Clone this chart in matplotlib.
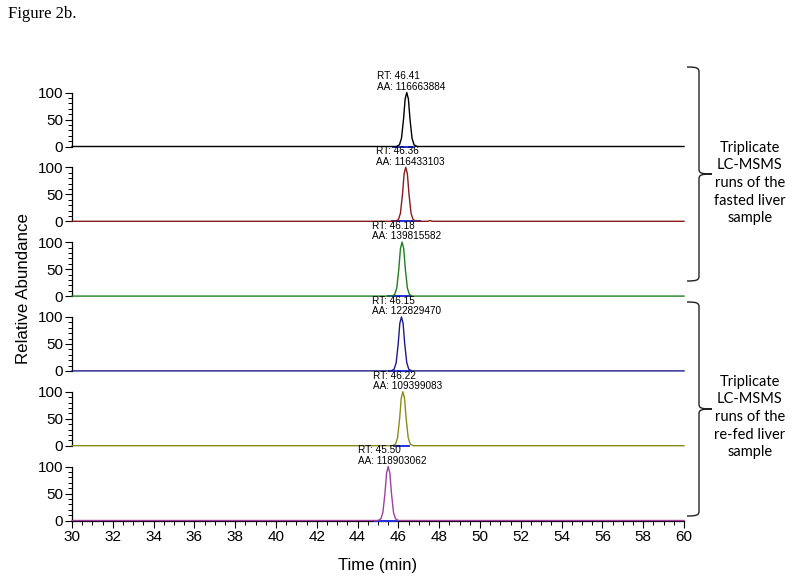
import matplotlib
matplotlib.use("Agg")
import matplotlib.pyplot as plt
from matplotlib.path import Path
from matplotlib.patches import PathPatch
from matplotlib.ticker import MultipleLocator

plt.rcParams["font.family"] = ["Liberation Sans", "DejaVu Sans"]

# retention time / area labels per run
rt_labels = ["46.41", "46.36", "46.18", "46.15", "46.22", "45.50"]
aa_labels = ["116663884", "116433103", "139815582", "122829470", "109399083", "118903062"]
colors = ["#000000", "#8b1a1a", "#1f7f1f", "#1a1a8a", "#8c8c1a", "#a040a0"]

# chromatogram points (time min, relative abundance)
times = [
    [30.0, 45.9, 46.05, 46.15, 46.25, 46.33, 46.41, 46.49, 46.57, 46.67, 46.77, 46.92, 60.0],
    [30.0, 45.85, 46.0, 46.1, 46.2, 46.28, 46.36, 46.44, 46.52, 46.62, 46.72, 46.87, 47.45, 47.55, 47.65, 60.0],
    [30.0, 45.67, 45.82, 45.92, 46.02, 46.1, 46.18, 46.26, 46.34, 46.44, 46.54, 46.69, 60.0],
    [30.0, 45.64, 45.79, 45.89, 45.99, 46.07, 46.15, 46.23, 46.31, 46.41, 46.51, 46.66, 60.0],
    [30.0, 45.71, 45.86, 45.96, 46.06, 46.14, 46.22, 46.3, 46.38, 46.48, 46.58, 46.73, 60.0],
    [30.0, 44.99, 45.14, 45.24, 45.34, 45.42, 45.5, 45.58, 45.66, 45.76, 45.86, 46.01, 60.0],
]
abund = [
    [0, 0, 3, 15, 50, 88, 100, 88, 50, 15, 3, 0, 0],
    [0, 0, 3, 15, 50, 88, 100, 88, 50, 15, 3, 0, 0, 1.5, 0, 0],
    [0, 0, 3, 15, 50, 88, 100, 88, 50, 15, 3, 0, 0],
    [0, 0, 3, 15, 50, 88, 100, 88, 50, 15, 3, 0, 0],
    [0, 0, 3, 15, 50, 88, 100, 88, 50, 15, 3, 0, 0],
    [0, 0, 3, 15, 50, 88, 100, 88, 50, 15, 3, 0, 0],
]
# integration baseline segments (start, end) in minutes
int_start = [45.75, 45.7, 45.5, 45.55, 45.8, 44.85]
int_end = [46.75, 47.05, 46.6, 46.6, 46.5, 45.93]

group_labels = [
    "Triplicate\nLC-MSMS\nruns of the\nfasted liver\nsample",
    "Triplicate\nLC-MSMS\nruns of the\nre-fed liver\nsample",
]

W, H = 800, 582
fig = plt.figure(figsize=(W / 100, H / 100), dpi=100)

left_px, right_px = 72, 684
panel_h = 54
zero0, stride = 146.5, 74.8

axes = []
for i in range(6):
    zero = zero0 + i * stride
    ax = fig.add_axes([left_px / W, (H - zero) / H, (right_px - left_px) / W, panel_h / H])
    ax.set_xlim(30, 60)
    ax.set_ylim(0, 100)
    ax.patch.set_alpha(0)
    for s in ["top", "right"]:
        ax.spines[s].set_visible(False)
    ax.spines["left"].set_linewidth(0.9)
    ax.set_yticks([0, 50, 100])
    ax.yaxis.set_minor_locator(MultipleLocator(10))
    ax.tick_params(axis="y", which="major", length=5, width=0.8, pad=1.5, labelsize=11)
    ax.tick_params(axis="y", which="minor", length=3, width=0.7)

    ax.plot([int_start[i], int_end[i]], [0, 0], color="#2030e0", lw=1.4, clip_on=False, zorder=3)
    ax.plot(times[i], abund[i], color=colors[i], lw=1.0, clip_on=False, zorder=4)

    ax.annotate(
        f"RT: {rt_labels[i]}\nAA: {aa_labels[i]}",
        xy=(float(rt_labels[i]), 100),
        xytext=(-21.5, 0.5),
        textcoords="offset points",
        ha="left",
        va="bottom",
        fontsize=7.2,
        linespacing=1.05,
        annotation_clip=False,
    )

    if i < 5:
        ax.spines["bottom"].set_visible(False)
        ax.set_xticks([])
    else:
        ax.spines["bottom"].set_linewidth(0.9)
        ax.set_xticks(range(30, 61, 2))
        ax.xaxis.set_minor_locator(MultipleLocator(0.5))
        ax.tick_params(axis="x", which="major", length=5, width=0.8, pad=2, labelsize=11)
        ax.tick_params(axis="x", which="minor", length=3, width=0.7)
        ax.set_xlabel("Time (min)", fontsize=12, labelpad=10)
    axes.append(ax)

fig.text(24 / W, 1 - 289 / H, "Relative Abundance", rotation=90, ha="center",
         va="center", fontsize=12.2)
fig.text(8 / W, 1 - 14 / H, "Figure 2b.", ha="left", va="center", fontsize=12,
         family=["Liberation Serif", "DejaVu Serif"])

# overlay in pixel coordinates for the braces and group notes
ov = fig.add_axes([0, 0, 1, 1])
ov.set_xlim(0, W)
ov.set_ylim(H, 0)
ov.axis("off")


def brace(ax, x, top, bot, width=12, tip=13):
    mid = (top + bot) / 2
    r = 5
    verts = [
        (x - width, top), (x - 2, top), (x, top + 1), (x, top + r),
        (x, mid - r), (x, mid - 1), (x + 2, mid), (x + tip, mid),
        (x + 2, mid), (x, mid + 1), (x, mid + r),
        (x, bot - r), (x, bot - 1), (x - 2, bot), (x - width, bot),
    ]
    codes = [Path.MOVETO, Path.CURVE4, Path.CURVE4, Path.CURVE4,
             Path.LINETO, Path.CURVE4, Path.CURVE4, Path.CURVE4,
             Path.CURVE4, Path.CURVE4, Path.CURVE4,
             Path.LINETO, Path.CURVE4, Path.CURVE4, Path.CURVE4]
    ax.add_patch(PathPatch(Path(verts, codes), fill=False, lw=1.0, color="#222222"))


brace(ov, 699, 67, 281)
brace(ov, 699, 302, 516)
ov.text(750, 183, group_labels[0], ha="center", va="center", fontsize=10.5,
        linespacing=1.33, family=["Lato", "DejaVu Sans"])
ov.text(750, 417, group_labels[1], ha="center", va="center", fontsize=10.5,
        linespacing=1.33, family=["Lato", "DejaVu Sans"])

fig.savefig("out.png", dpi=100)
